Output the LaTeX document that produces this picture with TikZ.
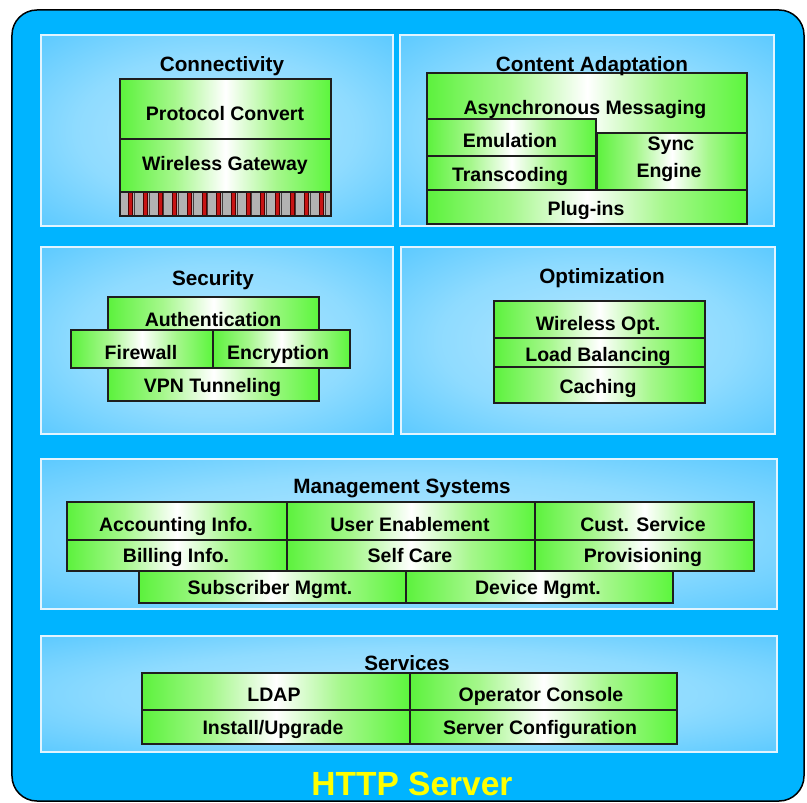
\documentclass[tikz,border=0pt]{standalone}
\usepackage{fontspec}
\setmainfont{Liberation Sans}
\definecolor{outerblue}{RGB}{0,180,255}
\definecolor{panelline}{RGB}{225,244,255}
\definecolor{boxline}{RGB}{30,30,30}
\definecolor{barred}{RGB}{200,20,20}
\definecolor{bargray}{RGB}{178,178,178}
\definecolor{httpyellow}{RGB}{255,255,0}
\pgfdeclarehorizontalshading{greenbar}{100bp}{rgb(0bp)=(0.14,0.91,0.02); rgb(20bp)=(0.25,0.94,0.12); rgb(38bp)=(0.65,0.97,0.55); rgb(50bp)=(1,1,1); rgb(62bp)=(0.65,0.97,0.55); rgb(80bp)=(0.25,0.96,0.12); rgb(100bp)=(0.18,0.98,0.02)}
\pgfdeclareradialshading{panelshade}{\pgfpoint{0bp}{0bp}}{rgb(0bp)=(0.70,0.90,1); rgb(20bp)=(0.56,0.86,1); rgb(38bp)=(0.33,0.78,1); rgb(50bp)=(0.24,0.74,1)}
\newcommand\lblfont{\fontsize{19.5bp}{22bp}\selectfont\bfseries}
\newcommand\ttlfont{\fontsize{20.7bp}{23bp}\selectfont\bfseries}
\newcommand\mybox[5]{\node[gbox, minimum width={(#4-#2)*1bp}, minimum height={(#5-#3)*1bp}] (#1) at ({(#2+#4)/2},{(#3+#5)/2}) {};}
\newcommand\mypanel[5]{\node[panel, minimum width={(#4-#2)*1bp}, minimum height={(#5-#3)*1bp}] (#1) at ({(#2+#4)/2},{(#3+#5)/2}) {};}
\newcommand\mylbl[4]{\node[lbl] (#1) at (#2,#3) {#4};}
\newcommand\myttl[4]{\node[ttl] (#1) at (#2,#3) {#4};}
\begin{document}
\begin{tikzpicture}[x=1bp,y=-1bp,
  gbox/.style={draw=boxline, line width=1.2bp, shading=greenbar, inner sep=0pt, outer sep=0pt},
  panel/.style={draw=panelline, line width=1.1bp, shading=panelshade, inner sep=0pt, outer sep=0pt},
  lbl/.style={font=\lblfont, text=black, text height=14bp, text depth=0pt, inner sep=0pt},
  ttl/.style={font=\ttlfont, text=black, text height=14.8bp, text depth=0pt, inner sep=0pt},
  barbox/.style={draw=boxline, line width=1.2bp, fill=bargray, inner sep=0pt, outer sep=0pt},
  redstripe/.style={fill=barred, draw=black!70!red, line width=0.4bp},
  barsep/.style={draw=black!75, line width=0.8bp},
  outer/.style={draw=black, line width=1.5bp, fill=outerblue, rounded corners=25bp, inner sep=0pt}]
\fill[white] (0,0) rectangle (807,803);
\useasboundingbox (0,0) rectangle (807,803);
% outer HTTP server frame
\node[outer, minimum width=792bp, minimum height=791bp] (server) at (408,405.5) {};
% panels
\mypanel{conn}{41}{35}{393}{226}
\mypanel{cont}{400}{35}{774}{226}
\mypanel{sec}{41}{247}{393}{434}
\mypanel{opt}{401}{247}{775}{434}
\mypanel{mgmt}{41}{459}{777}{609}
\mypanel{serv}{41}{636}{777}{752}
% Connectivity
\mybox{pc}{120}{79}{331}{139}
\mybox{wg}{120}{139}{331}{192}
\node[barbox, minimum width=211bp, minimum height=24bp] (bar) at (225.5,204) {};
\foreach \k in {0,...,13}{
  \draw[barsep] ({134.3+\k*14.67},192) -- ({134.3+\k*14.67},216);
  \filldraw[redstripe] ({128.6+\k*14.67},192.6) rectangle ({132.6+\k*14.67},215.4);
}
\draw[boxline, line width=1.2bp] (bar.north west) rectangle (bar.south east);
\myttl{conn-t}{222}{64}{Connectivity}
\mylbl{pc-t}{225}{113}{Protocol Convert}
\mylbl{wg-t}{225}{163.5}{Wireless Gateway}
% Content Adaptation
\mybox{am}{427}{73}{747}{133}
\mybox{em}{427}{119}{596}{156}
\mybox{tc}{427}{156}{596}{190}
\mybox{se}{597}{133}{747}{190}
\mybox{pi}{427}{190}{747}{224}
\myttl{cont-t}{592}{64}{Content Adaptation}
\mylbl{am-t}{585}{107}{Asynchronous Messaging}
\mylbl{em-t}{510}{140}{Emulation}
\mylbl{tc-t}{510}{174}{Transcoding}
\mylbl{se-t1}{671}{143}{Sync}
\mylbl{se-t2}{669}{170}{Engine}
\mylbl{pi-t}{586}{208}{Plug-ins}
% Security
\mybox{au}{108}{297}{319}{330}
\mybox{fw}{71}{330}{213}{368}
\mybox{en}{213}{330}{350}{368}
\mybox{vpn}{108}{368}{319}{401}
\myttl{sec-t}{213}{278.5}{Security}
\mylbl{au-t}{213}{319}{Authentication}
\mylbl{fw-t}{141}{352}{Firewall}
\mylbl{en-t}{278}{352}{Encryption}
\mylbl{vpn-t}{212.5}{385}{VPN Tunneling}
% Optimization
\mybox{wo}{494}{301}{705}{338}
\mybox{lb}{494}{338}{705}{367}
\mybox{ca}{494}{367}{705}{403}
\myttl{opt-t}{602}{276}{Optimization}
\mylbl{wo-t}{598}{323}{Wireless Opt.}
\mylbl{lb-t}{598}{354}{Load Balancing}
\mylbl{ca-t}{598}{386}{Caching}
% Management Systems
\mybox{ai}{67}{502}{287}{540}
\mybox{ue}{287}{502}{535}{540}
\mybox{cs}{535}{502}{754}{540}
\mybox{bi}{67}{540}{287}{571}
\mybox{sc}{287}{540}{535}{571}
\mybox{pv}{535}{540}{754}{571}
\mybox{sm}{139}{571}{406}{603}
\mybox{dm}{406}{571}{673}{603}
\myttl{mgmt-t}{402}{486}{Management Systems}
\mylbl{ai-t}{176}{524}{Accounting Info.}
\mylbl{ue-t}{410}{524}{User Enablement}
\mylbl{cs-t}{643}{524}{Cust. Service}
\mylbl{bi-t}{176}{555}{Billing Info.}
\mylbl{sc-t}{410}{555}{Self Care}
\mylbl{pv-t}{643}{555}{Provisioning}
\mylbl{sm-t}{270}{587}{Subscriber Mgmt.}
\mylbl{dm-t}{538}{587}{Device Mgmt.}
% Services
\mybox{ldap}{142}{673}{410}{710}
\mybox{oc}{410}{673}{677}{710}
\mybox{iu}{142}{710}{410}{744}
\mybox{scf}{410}{710}{677}{744}
\myttl{serv-t}{407}{663}{Services}
\mylbl{ldap-t}{274}{694}{LDAP}
\mylbl{oc-t}{541}{694}{Operator Console}
\mylbl{iu-t}{273}{727}{Install/Upgrade}
\mylbl{scf-t}{540}{727}{Server Configuration}
% HTTP Server
\node[font=\fontsize{33.5bp}{36bp}\selectfont\bfseries, text=httpyellow, text height=24bp, text depth=0pt, inner sep=0pt] (http-t) at (412,783) {HTTP Server};
\end{tikzpicture}
\end{document}
